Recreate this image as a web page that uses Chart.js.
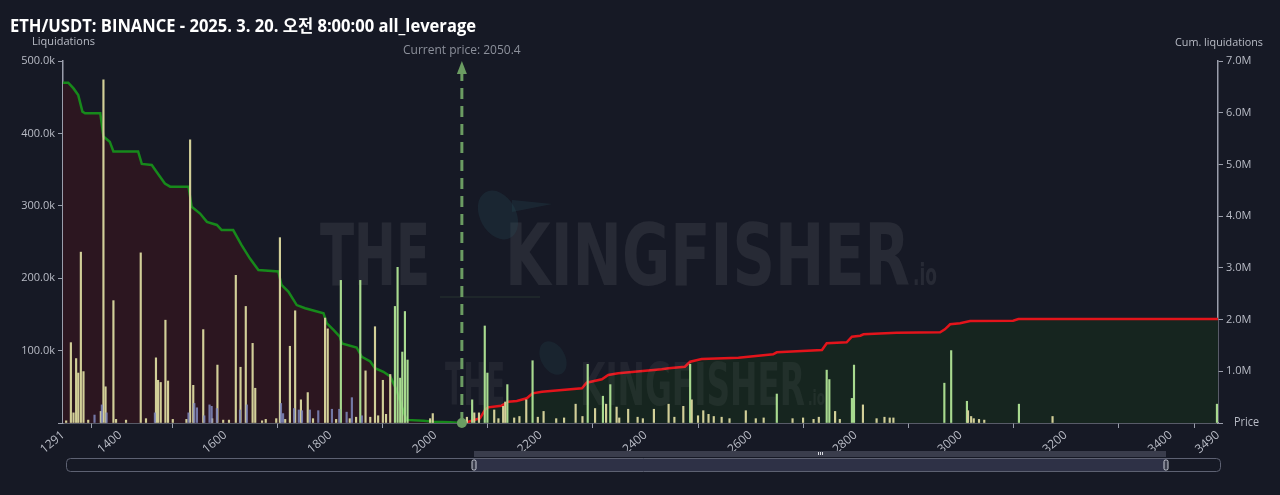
<!DOCTYPE html>
<html>
<head>
<meta charset="utf-8">
<script src="https://cdn.jsdelivr.net/npm/chart.js@4/dist/chart.umd.min.js"></script>
<style>
  html, body { margin: 0; padding: 0; background: #161925; overflow: hidden; }
  #wrap { width: 1280px; height: 495px; position: relative; }
</style>
</head>
<body>
<div id="wrap"><canvas id="liq-chart"></canvas></div>
<script>
// Data
var titleText = "ETH/USDT: BINANCE - 2025. 3. 20. 오전 8:00:00 all_leverage";
var currentPrice = 2050.4;
var priceMin = 1291, priceMax = 3490;
var priceTicks = [1291, 1400, 1600, 1800, 2000, 2200, 2400, 2600, 2800, 3000, 3200, 3400, 3490];

// yellow liquidation bars
var yellowPrices = [1297, 1306, 1311, 1316, 1320, 1325, 1330, 1339, 1363, 1368, 1372, 1387, 1392, 1411, 1439, 1449,
  1468, 1472, 1477, 1486, 1491, 1500, 1526, 1533, 1539, 1558, 1575, 1585, 1596, 1607, 1620, 1629, 1639, 1652, 1657,
  1670, 1677, 1697, 1704, 1714, 1723, 1733, 1744, 1757, 1767, 1790, 1795, 1811, 1837, 1849, 1867, 1876, 1885, 1891,
  1900, 1906, 1914, 1990, 1995,
  2060, 2074, 2083, 2112, 2120, 2129, 2133, 2150, 2160, 2173, 2195, 2206, 2230, 2245, 2267, 2280, 2304, 2325, 2345,
  2350, 2367, 2385, 2395, 2416, 2444, 2455, 2472, 2488, 2500, 2510, 2520, 2530, 2545, 2560, 2591, 2610, 2625, 2680,
  2700, 2720, 2730, 2761, 2770, 2814, 2840, 2855, 2865, 2872, 3014, 3020, 3025, 3035, 3045, 3175];
var yellowValues = [3000, 111000, 14000, 89000, 69000, 236000, 71000, 4000, 16000, 474000, 50000, 169000, 5000, 4000, 235000, 6000,
  90000, 59000, 56000, 142000, 58000, 5000, 5000, 391000, 52000, 129000, 6000, 80000, 4000, 4000, 204000, 77000, 161000, 110000, 48000,
  3000, 5000, 6000, 256000, 5000, 106000, 155000, 32000, 42000, 6000, 145000, 130000, 5000, 6000, 8000, 72000, 8000, 133000, 10000,
  59000, 12000, 67000, 6000, 13000,
  8000, 14000, 14000, 18000, 6000, 23000, 29000, 7000, 9000, 32000, 8000, 16000, 6000, 7000, 26000, 9000, 20000, 26000, 22000,
  7000, 19000, 8000, 6000, 19000, 26000, 8000, 23000, 32000, 10000, 17000, 12000, 9000, 8000, 6000, 17000, 6000, 7000, 6000,
  7000, 5000, 8000, 16000, 5000, 25000, 6000, 8000, 7000, 7000, 17000, 9000, 6000, 5000, 4000, 9000];

// green liquidation bars
var greenPrices = [1820, 1857, 1923, 1928, 1933, 1937, 1942, 1947,
  2070, 2094, 2099, 2137, 2185, 2290, 2319, 2333, 2485, 2650, 2745, 2750, 2793, 2797, 2969, 2982, 3012, 3111, 3488];
var greenValues = [197000, 197000, 161000, 215000, 62000, 98000, 154000, 87000,
  32000, 134000, 69000, 53000, 86000, 81000, 37000, 53000, 81000, 40000, 73000, 60000, 34000, 80000, 55000, 100000, 30000, 26000, 26000];

// blue liquidation bars
var bluePrices = [1351, 1365, 1374, 1466, 1530, 1541, 1546, 1560, 1570, 1574, 1584, 1628, 1641, 1706, 1710, 1731,
  1740, 1746, 1761, 1777, 1803, 1817, 1831, 1841, 1860];
var blueValues = [11000, 25000, 14000, 14000, 14000, 27000, 21000, 10000, 25000, 23000, 20000, 18000, 25000, 27000, 13000, 20000,
  18000, 17000, 18000, 17000, 19000, 19000, 15000, 35000, 10000];

// cumulative long liquidations (below current price)
var longCumPrices = [1291, 1301, 1311, 1320, 1328, 1333, 1362, 1368, 1380, 1387, 1434, 1441, 1460, 1469, 1485, 1495,
  1530, 1536, 1552, 1565, 1584, 1593, 1615, 1631, 1647, 1663, 1701, 1707, 1720, 1736, 1752, 1787, 1793, 1806, 1818,
  1822, 1850, 1860, 1876, 1885, 1901, 1914, 1926, 1936, 1945, 1977, 1996, 2028, 2050.4];
var longCumValues = [6580000, 6580000, 6470000, 6340000, 6020000, 5990000, 5990000, 5540000, 5440000, 5250000, 5250000,
  5010000, 4990000, 4860000, 4630000, 4570000, 4570000, 4180000, 4050000, 3890000, 3830000, 3730000, 3730000, 3440000,
  3180000, 2960000, 2930000, 2670000, 2540000, 2280000, 2220000, 2120000, 1930000, 1800000, 1670000, 1540000, 1460000,
  1280000, 1190000, 1060000, 990000, 900000, 640000, 320000, 60000, 45000, 25000, 13000, 0];

// cumulative short liquidations (above current price)
var shortCumPrices = [2050.4, 2063, 2085, 2095, 2101, 2126, 2139, 2155, 2174, 2185, 2203, 2279, 2288, 2317, 2329, 2348,
  2431, 2444, 2475, 2485, 2507, 2577, 2643, 2650, 2736, 2745, 2783, 2793, 2809, 2815, 2878, 2961, 2970, 2980, 2999,
  3018, 3100, 3110, 3490];
var shortCumValues = [0, 25000, 91000, 265000, 304000, 335000, 412000, 425000, 478000, 574000, 605000, 671000, 779000,
  845000, 928000, 961000, 1038000, 1058000, 1089000, 1185000, 1238000, 1263000, 1328000, 1367000, 1412000, 1541000,
  1560000, 1669000, 1688000, 1715000, 1746000, 1754000, 1812000, 1909000, 1928000, 1972000, 1978000, 2011000, 2011000];

function pts(xs, ys) {
  return xs.map(function (x, i) { return { x: x, y: ys[i] }; });
}

var FONT = "'Open Sans', 'Noto Sans', 'Noto Sans CJK KR', sans-serif";
var labelColor = "#b9bcc6";
var axisColor = "#9a9eab";

function drawWatermark(c) {
  c.save();
  c.textBaseline = "alphabetic";
  c.fillStyle = "rgba(255,255,255,0.075)";
  c.font = "bold 86px 'DejaVu Sans', sans-serif";
  c.fillText("THE", 320, 285, 110);
  c.fillText("KINGFISHER", 505, 285, 405);
  c.font = "bold 30px 'DejaVu Sans', sans-serif";
  c.fillText(".io", 913, 285, 24);
  // rough bird shape between the words
  c.fillStyle = "rgba(40,80,90,0.25)";
  c.beginPath();
  c.ellipse(498, 215, 18, 26, -0.5, 0, Math.PI * 2);
  c.fill();
  c.beginPath();
  c.moveTo(512, 200);
  c.lineTo(552, 204);
  c.lineTo(512, 212);
  c.fill();
  c.fillStyle = "rgba(90,140,80,0.12)";
  c.fillRect(440, 296, 100, 2);
  c.fillStyle = "rgba(255,255,255,0.055)";
  c.font = "bold 59px 'DejaVu Sans', sans-serif";
  c.fillText("THE", 445, 405, 60);
  c.fillText("KINGFISHER", 580, 405, 225);
  c.font = "bold 22px 'DejaVu Sans', sans-serif";
  c.fillText(".io", 808, 405, 17);
  c.fillStyle = "rgba(40,80,90,0.2)";
  c.beginPath();
  c.ellipse(553, 358, 12, 18, -0.5, 0, Math.PI * 2);
  c.fill();
  c.restore();
}

// extra drawing: watermark, current price marker, titles, zoom slider
var overlay = {
  id: "overlay",
  beforeDatasetsDraw: function (chart) { chart.$wmDone = false; },
  beforeDatasetDraw: function (chart, args) {
    if (!chart.$wmDone && args.meta.type === "bar") {
      drawWatermark(chart.ctx);
      chart.$wmDone = true;
    }
  },
  afterDatasetsDraw: function (chart) {
    var c = chart.ctx;
    var px = chart.scales.x.getPixelForValue(currentPrice);
    var top = chart.chartArea.top, bottom = chart.chartArea.bottom;
    c.save();
    c.strokeStyle = "#6b9c62";
    c.fillStyle = "#6b9c62";
    c.lineWidth = 3;
    c.setLineDash([11, 7]);
    c.beginPath();
    c.moveTo(px, bottom);
    c.lineTo(px, top + 10);
    c.stroke();
    c.setLineDash([]);
    c.beginPath();
    c.moveTo(px, top);
    c.lineTo(px - 5, top + 13);
    c.lineTo(px + 5, top + 13);
    c.closePath();
    c.fill();
    c.beginPath();
    c.arc(px, bottom, 5, 0, Math.PI * 2);
    c.fill();
    c.restore();
  },
  afterDraw: function (chart) {
    var c = chart.ctx;
    var px = chart.scales.x.getPixelForValue(currentPrice);
    c.save();
    c.fillStyle = "#ffffff";
    c.font = "bold 17px " + FONT;
    c.textBaseline = "alphabetic";
    c.fillText(titleText, 10, 32, 466);
    c.font = "11px " + FONT;
    c.fillStyle = labelColor;
    c.fillText("Liquidations", 32, 45, 72);
    c.fillText("Cum. liquidations", 1175, 46, 88);
    c.font = "12px " + FONT;
    c.fillText("Price", 1234, 426, 25);
    c.fillStyle = "#8c909b";
    c.font = "12px " + FONT;
    c.textAlign = "center";
    c.fillText("Current price: " + currentPrice, px, 54);
    c.textAlign = "left";

    // zoom slider
    var sx0 = 66, sx1 = 1220, sy = 458, sh = 13;
    var hx0 = 474, hx1 = 1166;
    c.fillStyle = "#3a3d4c";
    c.fillRect(hx0, sy - 7, hx1 - hx0, 6);
    c.fillStyle = "#2e3146";
    c.fillRect(hx0, sy, hx1 - hx0, sh);
    c.strokeStyle = "#5d6172";
    c.lineWidth = 1;
    c.beginPath();
    c.roundRect(sx0 + 0.5, sy + 0.5, sx1 - sx0, sh, 4);
    c.stroke();
    c.strokeStyle = "#c9ccd6";
    c.fillStyle = "#3a3d4c";
    [hx0, hx1].forEach(function (hx) {
      c.beginPath();
      c.roundRect(hx - 2, sy + 2, 4, sh - 3, 1.5);
      c.fill();
      c.stroke();
    });
    c.fillStyle = "#d8dae0";
    var mid = (hx0 + hx1) / 2;
    for (var k = -1; k <= 1; k++) c.fillRect(Math.round(mid + k * 2), sy - 6, 1, 3);
    c.restore();
  }
};

var ctx = document.getElementById("liq-chart").getContext("2d");
var myChart = new Chart(ctx, {
  type: "bar",
  data: {
    datasets: [
      {
        label: "Blue",
        data: pts(bluePrices, blueValues),
        backgroundColor: "rgba(128,138,190,0.85)",
        barThickness: 1.5,
        grouped: false,
        yAxisID: "y",
        order: 1
      },
      {
        label: "Yellow",
        data: pts(yellowPrices, yellowValues),
        backgroundColor: "#d2cf98",
        barThickness: 1.5,
        grouped: false,
        yAxisID: "y",
        order: 2
      },
      {
        label: "Green",
        data: pts(greenPrices, greenValues),
        backgroundColor: "#a8da8f",
        barThickness: 1.5,
        grouped: false,
        yAxisID: "y",
        order: 2
      },
      {
        type: "line",
        label: "Cum. long",
        data: pts(longCumPrices, longCumValues),
        borderColor: "#17891b",
        backgroundColor: "#2c1620",
        borderWidth: 2.5,
        pointRadius: 0,
        tension: 0,
        fill: "origin",
        yAxisID: "y1",
        order: 5
      },
      {
        type: "line",
        label: "Cum. short",
        data: pts(shortCumPrices, shortCumValues),
        borderColor: "#e3141b",
        backgroundColor: "#16251f",
        borderWidth: 2.5,
        pointRadius: 0,
        tension: 0,
        fill: "origin",
        yAxisID: "y1",
        order: 5
      }
    ]
  },
  options: {
    responsive: true,
    maintainAspectRatio: false,
    animation: false,
    layout: { padding: { top: 61, left: 0, right: 0, bottom: 0 } },
    plugins: {
      legend: { display: false },
      tooltip: { enabled: false }
    },
    scales: {
      x: {
        type: "linear",
        min: priceMin,
        max: priceMax,
        offset: false,
        afterBuildTicks: function (scale) {
          scale.ticks = priceTicks.map(function (v) { return { value: v }; });
        },
        afterFit: function (scale) { scale.height = 72; },
        ticks: {
          autoSkip: false,
          minRotation: 40,
          maxRotation: 40,
          color: labelColor,
          font: { family: FONT, size: 12 },
          padding: 0,
          callback: function (v) { return String(v); }
        },
        grid: { drawOnChartArea: false, tickLength: 5, color: axisColor },
        border: { color: axisColor, width: 1.5 }
      },
      y: {
        position: "left",
        min: 0,
        max: 500000,
        afterFit: function (scale) { scale.width = 63; },
        ticks: {
          stepSize: 100000,
          color: labelColor,
          font: { family: FONT, size: 11 },
          padding: 3,
          callback: function (v) { return v === 0 ? "" : (v / 1000).toFixed(1) + "k"; }
        },
        grid: { drawOnChartArea: false, tickLength: 5, color: axisColor },
        border: { color: axisColor, width: 1.5 }
      },
      y1: {
        position: "right",
        min: 0,
        max: 7000000,
        afterFit: function (scale) { scale.width = 62; },
        ticks: {
          stepSize: 1000000,
          color: labelColor,
          font: { family: FONT, size: 11 },
          padding: 3,
          callback: function (v) { return v === 0 ? "" : (v / 1000000).toFixed(1) + "M"; }
        },
        grid: { drawOnChartArea: false, tickLength: 5, color: axisColor },
        border: { color: axisColor, width: 1.5 }
      }
    }
  },
  plugins: [overlay]
});
</script>
</body>
</html>
